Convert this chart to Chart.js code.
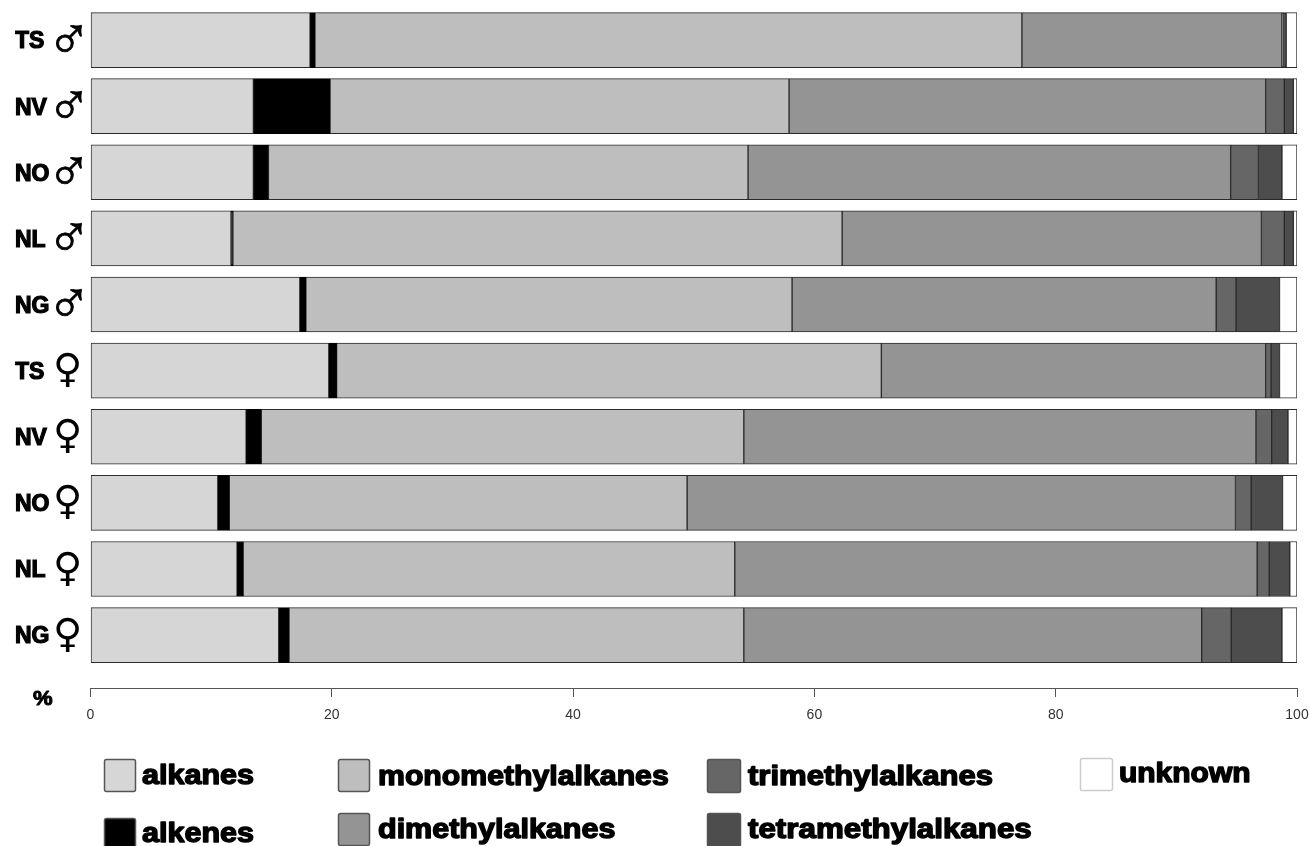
<!DOCTYPE html>
<html>
<head>
<meta charset="utf-8">
<style>
  body { margin: 0; background: #fff; }
  canvas { display: block; }
</style>
<script src="https://cdn.jsdelivr.net/npm/chart.js@4"></script>
</head>
<body>
<canvas id="chart" width="1310" height="846"></canvas>
<script>
const categories = ['TS', 'NV', 'NO', 'NL', 'NG', 'TS', 'NV', 'NO', 'NL', 'NG'];
const sexes = ['♂', '♂', '♂', '♂', '♂', '♀', '♀', '♀', '♀', '♀'];
const alkanes = [18.2, 13.5, 13.5, 11.65, 17.35, 19.75, 12.9, 10.55, 12.15, 15.6];
const alkenes = [0.4, 6.35, 1.25, 0.15, 0.5, 0.65, 1.25, 0.95, 0.5, 0.85];
const monomethylalkanes = [58.6, 38.05, 39.75, 50.5, 40.3, 45.15, 40.0, 37.95, 40.75, 37.7];
const dimethylalkanes = [21.55, 39.5, 40.0, 34.75, 35.15, 31.85, 42.45, 45.45, 43.3, 37.95];
const trimethylalkanes = [0.15, 1.55, 2.3, 1.9, 1.65, 0.45, 1.3, 1.3, 1.0, 2.45];
const tetramethylalkanes = [0.2, 0.75, 1.95, 0.75, 3.6, 0.7, 1.35, 2.6, 1.7, 4.2];
const unknown = [0.9, 0.3, 1.25, 0.3, 1.45, 1.45, 0.75, 1.2, 0.6, 1.25];

const seriesNames = ['alkanes', 'alkenes', 'monomethylalkanes', 'dimethylalkanes', 'trimethylalkanes', 'tetramethylalkanes', 'unknown'];
const seriesValues = [alkanes, alkenes, monomethylalkanes, dimethylalkanes, trimethylalkanes, tetramethylalkanes, unknown];
const seriesColors = ['#d6d6d6', '#000000', '#bebebe', '#949494', '#666666', '#4d4d4d', '#ffffff'];

// legend spots: the legend isn't a regular grid in the original
const legendSpots = [
    { x: 104, y: 759, w: 31, h: 32, tx: 142, ty: 784, stretch: 1.13 },
    { x: 104, y: 818, w: 31, h: 32, tx: 142, ty: 842, stretch: 1.13 },
    { x: 338, y: 759, w: 31, h: 32, tx: 378, ty: 785, stretch: 1.12 },
    { x: 338, y: 813, w: 31, h: 32, tx: 378, ty: 838, stretch: 1.13 },
    { x: 707, y: 759, w: 33, h: 33, tx: 748, ty: 785, stretch: 1.15 },
    { x: 707, y: 813, w: 33, h: 33, tx: 748, ty: 838, stretch: 1.16 },
    { x: 1080, y: 758, w: 32, h: 32, tx: 1119, ty: 782, stretch: 1.11 }
];

const headingFont = 'bold 27px "Liberation Sans"';

// the original text is stretched sideways, so squeeze it in with a scale
function heavyText(ctx, text, x, y, font, stroke, stretch) {
    ctx.save();
    ctx.translate(x, y);
    ctx.scale(stretch, 1);
    ctx.font = font;
    ctx.fillStyle = '#000';
    ctx.strokeStyle = '#000';
    ctx.lineWidth = stroke;
    ctx.lineJoin = 'round';
    ctx.fillText(text, 0, 0);
    ctx.strokeText(text, 0, 0);
    ctx.restore();
}

const extrasPlugin = {
    id: 'extras',
    afterDraw(chart) {
        const ctx = chart.ctx;
        const yScale = chart.scales.y;
        ctx.save();
        ctx.textBaseline = 'alphabetic';
        ctx.textAlign = 'left';

        // sex symbols next to the row labels, the two fonts fit each glyph best
        sexes.forEach((s, i) => {
            const mid = yScale.getPixelForValue(i);
            if (s === '♂') {
                heavyText(ctx, s, 46.5, mid + 18.5, '60px "Liberation Sans"', 0.8, 1);
            } else {
                ctx.font = '40px "DejaVu Sans"';
                ctx.fillStyle = '#000';
                ctx.fillText(s, 53, mid + 11.6);
            }
        });

        heavyText(ctx, '%', 33, 705, 'bold 21px "Liberation Sans"', 1, 1.05);

        seriesNames.forEach((name, i) => {
            const spot = legendSpots[i];
            ctx.fillStyle = seriesColors[i];
            ctx.strokeStyle = i === 6 ? '#cccccc' : '#555555';
            ctx.lineWidth = 1.5;
            ctx.beginPath();
            ctx.roundRect(spot.x + 0.5, spot.y + 0.5, spot.w, spot.h, 2);
            ctx.fill();
            ctx.stroke();
            heavyText(ctx, name, spot.tx, spot.ty, headingFont, 1.4, spot.stretch);
        });
        ctx.restore();
    }
};

new Chart(document.getElementById('chart'), {
    type: 'bar',
    data: {
        datasets: seriesNames.map((name, i) => ({
            label: name,
            data: seriesValues[i].map((v, row) => ({ x: v, y: row })),
            backgroundColor: seriesColors[i],
            borderColor: i === 1 ? '#000' : '#2a2a2a',
            borderWidth: 1,
            borderSkipped: false,
            barThickness: 55
        }))
    },
    plugins: [extrasPlugin],
    options: {
        indexAxis: 'y',
        responsive: false,
        animation: false,
        layout: { padding: { left: 15, right: 13, top: 7, bottom: 0 } },
        plugins: {
            legend: { display: false },
            tooltip: { enabled: false }
        },
        scales: {
            x: {
                type: 'linear',
                stacked: true,
                min: 0,
                max: 100,
                afterBuildTicks: axis => { axis.ticks = [0, 20, 40, 60, 80, 100].map(v => ({ value: v })); },
                afterFit: axis => {
                    axis.height = 158;
                    // tick label overhang would otherwise push the plot area in
                    axis.paddingLeft = 0;
                    axis.paddingRight = 0;
                },
                grid: { drawOnChartArea: false, tickLength: 9, tickColor: '#555', tickWidth: 1 },
                border: { color: '#555', width: 1 },
                ticks: {
                    maxRotation: 0,
                    padding: 10,
                    color: '#333',
                    font: { family: 'Liberation Sans', size: 14 }
                }
            },
            y: {
                type: 'linear',
                stacked: true,
                reverse: true,
                offset: false,
                min: -0.5,
                max: 9.8,
                afterBuildTicks: axis => { axis.ticks = categories.map((c, i) => ({ value: i })); },
                afterFit: axis => {
                    axis.width = 75.5;
                    axis.paddingTop = 0;
                    axis.paddingBottom = 0;
                },
                grid: { display: false },
                border: { display: false },
                ticks: {
                    autoSkip: false,
                    crossAlign: 'far',
                    labelOffset: 2,
                    color: '#000',
                    textStrokeColor: '#000',
                    textStrokeWidth: 1.2,
                    font: { family: 'Liberation Sans', size: 23, weight: 'bold' },
                    callback: value => categories[value]
                }
            }
        }
    }
});
</script>
</body>
</html>
